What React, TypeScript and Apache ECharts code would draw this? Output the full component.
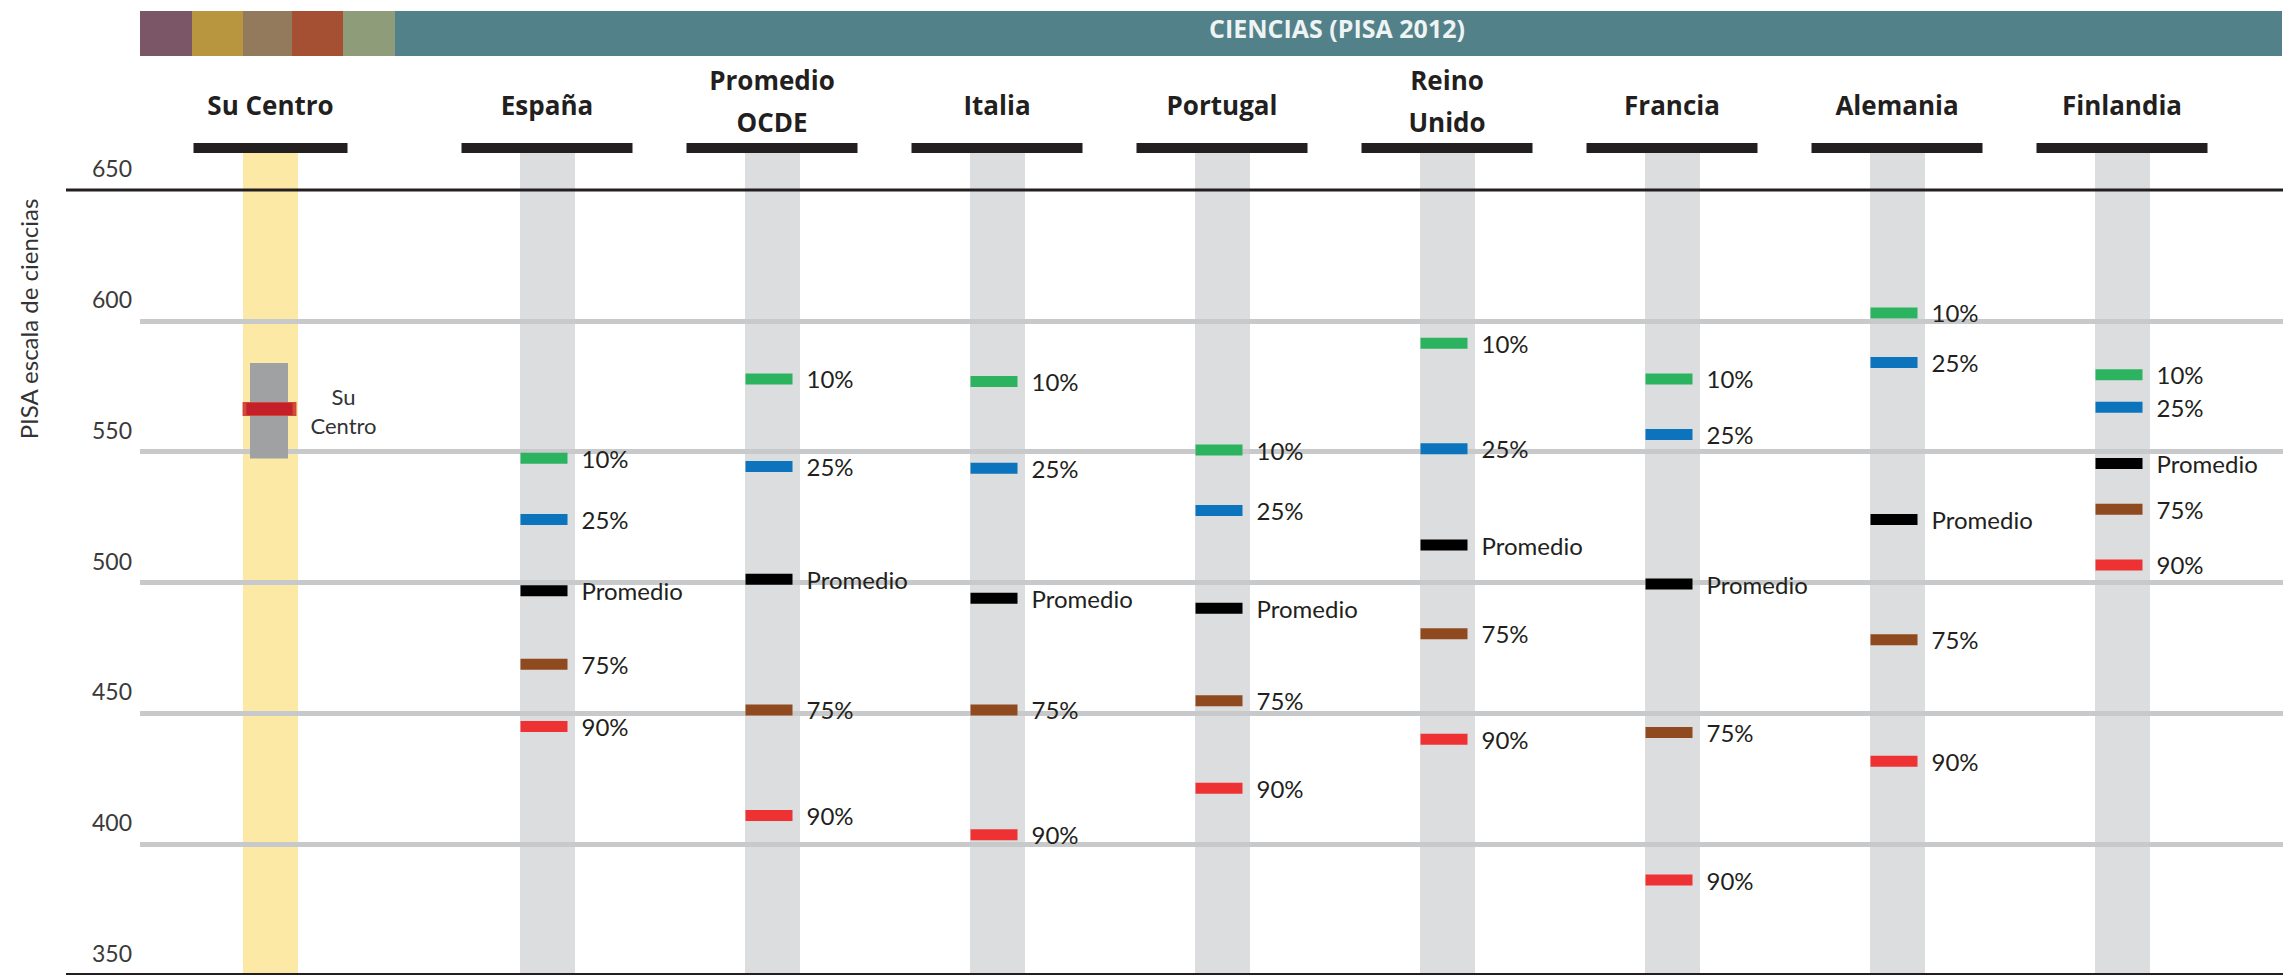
import React, { useEffect, useRef } from "react";
import * as echarts from "echarts";

// ---------- data ----------
const title = "CIENCIAS (PISA 2012)";
const yAxisName = "PISA escala de ciencias";
const yMin = 350;
const yMax = 650;
const yStep = 50;

const centroName = ["Su Centro"];
const centroLabel = "Su\nCentro";
const centroLow = [547.4];
const centroHigh = [583.9];
const centroScore = [566.3];

const countries = ["España", "Promedio\nOCDE", "Italia", "Portugal", "Reino\nUnido", "Francia", "Alemania", "Finlandia"];
const p10 = [547.5, 577.8, 576.8, 550.6, 591.4, 577.8, 603.0, 579.4];
const p25 = [524.1, 544.3, 543.7, 527.5, 551.1, 556.6, 584.1, 567.0];
const promedio = [496.8, 501.2, 494.0, 490.2, 514.3, 499.4, 524.1, 545.5];
const p75 = [468.8, 451.3, 451.3, 454.8, 480.4, 442.7, 478.1, 528.0];
const p90 = [445.0, 411.0, 403.6, 421.4, 440.1, 386.3, 431.7, 506.7];

const markerNames = ["10%", "25%", "Promedio", "75%", "90%"];
const markerValues = [p10, p25, promedio, p75, p90];
const markerColors = ["#2BB35F", "#0B74BC", "#000000", "#8F4A1F", "#EE3233"];

const stripColors = ["#7B5667", "#B8953F", "#937A5D", "#A65033", "#8F9C7A", "#538189"];
const stripEdges = [140, 192, 243, 292, 343, 395, 2282];

const TEXT = "#231F20";
const REG = "Lato, 'Open Sans', sans-serif";
const BOLD = "'Open Sans', Lato, sans-serif";

function headerLabel(barWidth: number) {
  return {
    interval: 0,
    margin: 0,
    formatter: (v: string) =>
      v.includes("\n")
        ? v.split("\n").map((s) => `{two|${s}}`).join("\n") + "\n{bar| }"
        : `{one|${v}}\n{bar| }`,
    rich: {
      one: { fontFamily: BOLD, fontWeight: "bold", fontSize: 26, lineHeight: 76, color: TEXT, align: "center" },
      two: { fontFamily: BOLD, fontWeight: "bold", fontSize: 26, lineHeight: 42, color: TEXT, align: "center" },
      bar: { width: barWidth, height: 10, lineHeight: 10, backgroundColor: TEXT, align: "center", fontSize: 1 },
    },
  };
}

export default function App() {
  const ref = useRef<HTMLDivElement>(null);
  useEffect(() => {
    if (!ref.current) return;
    const chart = echarts.init(ref.current, null, { renderer: "svg" });

    const strip = stripColors.map((c, i) => ({
      type: "rect",
      shape: { x: stripEdges[i], y: 11, width: stripEdges[i + 1] - stripEdges[i], height: 45 },
      style: { fill: c },
    }));

    const markerSeries = markerNames.map((name, i) => ({
      type: "scatter",
      name,
      xAxisIndex: 2,
      yAxisIndex: 2,
      data: markerValues[i],
      symbol: "rect",
      symbolSize: [47, 11],
      symbolOffset: [-3, 0],
      itemStyle: { color: markerColors[i], opacity: 1 },
      label: {
        show: true,
        position: "right",
        distance: 14,
        formatter: name,
        fontFamily: REG,
        fontSize: 24,
        color: TEXT,
      },
      emphasis: { disabled: true },
      z: 5,
    }));

    chart.setOption({
      animation: false,
      backgroundColor: "#ffffff",
      grid: [
        { left: 140, right: 12, top: 190, height: 788 },
        { left: 158, width: 225, top: 190, height: 788 },
        { left: 434.5, width: 1800, top: 190, height: 788 },
      ],
      xAxis: [
        { gridIndex: 0, type: "value", min: 0, max: 1, show: false },
        {
          gridIndex: 1,
          type: "category",
          data: centroName,
          position: "top",
          offset: 37,
          z: 0,
          axisLine: { show: false },
          axisTick: { show: true, alignWithLabel: true, inside: true, length: 825, lineStyle: { color: "#FCE9A6", width: 55 } },
          axisLabel: headerLabel(154),
        },
        {
          gridIndex: 2,
          type: "category",
          data: countries,
          position: "top",
          offset: 37,
          z: 0,
          axisLine: { show: false },
          axisTick: { show: true, alignWithLabel: true, inside: true, length: 825, lineStyle: { color: "#DCDDDE", width: 55 } },
          axisLabel: headerLabel(171),
        },
      ],
      yAxis: [
        {
          gridIndex: 0,
          type: "value",
          min: yMin,
          max: yMax,
          interval: yStep,
          z: 1,
          axisLine: { show: false },
          axisTick: { show: false },
          axisLabel: {
            margin: 8,
            fontFamily: REG,
            fontSize: 23,
            color: "#3A3A3A",
            verticalAlign: "bottom",
            lineHeight: 44,
          },
          splitLine: { show: true, showMinLine: false, showMaxLine: false, lineStyle: { color: "#C8C9CA", width: 5 } },
        },
        { gridIndex: 1, type: "value", min: yMin, max: yMax, show: false },
        { gridIndex: 2, type: "value", min: yMin, max: yMax, show: false },
      ],
      series: [
        {
          type: "custom",
          xAxisIndex: 1,
          yAxisIndex: 1,
          data: centroLow.map((lo, i) => [i, lo, centroHigh[i]]),
          encode: { x: 0, y: [1, 2] },
          renderItem: (params: any, api: any) => {
            const lo = api.coord([api.value(0), api.value(1)]);
            const hi = api.coord([api.value(0), api.value(2)]);
            return {
              type: "rect",
              shape: { x: lo[0] - 20.5, y: hi[1], width: 38, height: lo[1] - hi[1] },
              style: { fill: "#9FA1A2" },
            };
          },
          z: 3,
        },
        {
          type: "scatter",
          name: "Su Centro",
          xAxisIndex: 1,
          yAxisIndex: 1,
          data: centroScore,
          symbol: "rect",
          symbolSize: [50, 13],
          symbolOffset: [-1, 0],
          itemStyle: { color: "#C4202A", opacity: 1, borderColor: "#D2483A", borderWidth: 2 },
          label: {
            show: true,
            position: "inside",
            offset: [74, 2],
            formatter: centroLabel,
            fontFamily: REG,
            fontSize: 22,
            lineHeight: 29,
            color: "#333333",
          },
          emphasis: { disabled: true },
          z: 5,
        },
        ...markerSeries,
      ],
      graphic: [
        ...strip,
        {
          type: "text",
          x: 1337,
          y: 28,
          style: {
            text: title,
            fill: "#EEF3F4",
            fontFamily: "'Liberation Sans Narrow', 'Open Sans', sans-serif",
            fontWeight: "bold",
            fontSize: 25,
            align: "center",
            verticalAlign: "middle",
          },
          z: 20,
        },
        {
          type: "line",
          shape: { x1: 66, y1: 190, x2: 2283, y2: 190 },
          style: { stroke: TEXT, lineWidth: 3 },
          z: 100,
        },
        {
          type: "line",
          shape: { x1: 66, y1: 974, x2: 2283, y2: 974 },
          style: { stroke: TEXT, lineWidth: 2 },
          z: 100,
        },
        {
          type: "text",
          x: 28,
          y: 319,
          rotation: Math.PI / 2,
          style: {
            text: yAxisName,
            fill: "#333333",
            fontFamily: REG,
            fontSize: 24,
            align: "center",
            verticalAlign: "middle",
          },
          z: 20,
        },
      ],
    });
    return () => chart.dispose();
  }, []);
  return <div ref={ref} style={{ position: "absolute", left: 0, top: 0, width: 2295, height: 975 }} />;
}
